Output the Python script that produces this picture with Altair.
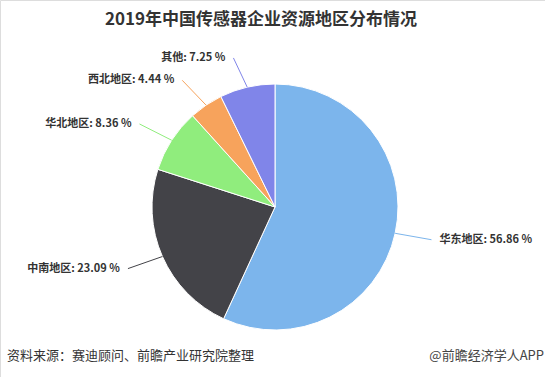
import math
import altair as alt
import pandas as pd

regions = ["华东地区", "中南地区", "华北地区", "西北地区", "其他"]
shares = [56.86, 23.09, 8.36, 4.44, 7.25]
colors = ["#7cb5ec", "#434348", "#90ed7d", "#f7a35c", "#8085e9"]
title_text = "2019年中国传感器企业资源地区分布情况"
source_text = "资料来源：赛迪顾问、前瞻产业研究院整理"
brand_text = "@前瞻经济学人APP"

W, H = 545, 377
CX, CY, R = 275, 207, 123
LABEL_R = (R + 30) / R
CONN_PAD = 7 / R
FONT = "Noto Sans CJK SC"

total = sum(shares)
rows, conn = [], []
cum = 0.0
for i, (reg, v) in enumerate(zip(regions, shares)):
    mid = (cum + v / 2) / total * 2 * math.pi
    cum += v
    sx, cy_ = math.sin(mid), math.cos(mid)
    lx, ly = LABEL_R * sx, LABEL_R * cy_
    side = "right" if sx > 0 else "left"
    rows.append(dict(region=reg, share=v, order=i, lx=lx, ly=ly, side=side,
                     label=f"{reg}: {v:.2f} %"))
    conn.append(dict(region=reg, pt=0, x=sx, y=cy_))
    conn.append(dict(region=reg, pt=1, x=lx + (CONN_PAD if sx > 0 else -CONN_PAD), y=ly))

df = pd.DataFrame(rows)
cdf = pd.DataFrame(conn)

xs = alt.Scale(domain=[-CX / R, (W - CX) / R], nice=False, zero=False)
ys = alt.Scale(domain=[-(H - CY) / R, CY / R], nice=False, zero=False)
cs = alt.Scale(domain=regions, range=colors)

pie = alt.Chart(df).mark_arc(outerRadius=R, stroke="white", strokeWidth=1).encode(
    theta=alt.Theta("share:Q", stack=True),
    color=alt.Color("region:N", scale=cs, legend=None),
    order=alt.Order("order:Q"),
    x=alt.XDatum(0, type="quantitative", scale=xs, axis=None),
    y=alt.YDatum(0, type="quantitative", scale=ys, axis=None),
)

lines = alt.Chart(cdf).mark_line(strokeWidth=1).encode(
    x=alt.X("x:Q", scale=xs, axis=None),
    y=alt.Y("y:Q", scale=ys, axis=None),
    color=alt.Color("region:N", scale=cs, legend=None),
    detail="region:N",
    order="pt:Q",
)

def label_layer(side, align, dx):
    return alt.Chart(df).transform_filter(alt.datum.side == side).mark_text(
        align=align, baseline="middle", dx=dx, font=FONT, fontSize=11,
        fontWeight="bold", color="#333333"
    ).encode(
        x=alt.X("lx:Q", scale=xs, axis=None),
        y=alt.Y("ly:Q", scale=ys, axis=None),
        text="label:N",
    )

labels_r = label_layer("right", "left", 15)
labels_l = label_layer("left", "right", -15)

title = alt.Chart(pd.DataFrame({"t": [title_text]})).mark_text(
    font=FONT, fontSize=17, fontWeight="bold", color="#333333", align="center", baseline="middle"
).encode(text="t:N", x=alt.value(261), y=alt.value(20))

source = alt.Chart(pd.DataFrame({"t": [source_text]})).mark_text(
    font=FONT, fontSize=13, color="#333333", align="left", baseline="middle"
).encode(text="t:N", x=alt.value(7), y=alt.value(356))

brand = alt.Chart(pd.DataFrame({"t": [brand_text]})).mark_text(
    font=FONT, fontSize=13, color="#444444", align="right", baseline="middle"
).encode(text="t:N", x=alt.value(544), y=alt.value(356))

chart = alt.layer(pie, lines, labels_r, labels_l, title, source, brand).properties(
    width=W, height=H, padding=0, autosize=alt.AutoSizeParams(type="none")
).configure_view(stroke=None).configure(background="white")

chart.save("out.html", embed_options={"renderer": "svg", "actions": False})
